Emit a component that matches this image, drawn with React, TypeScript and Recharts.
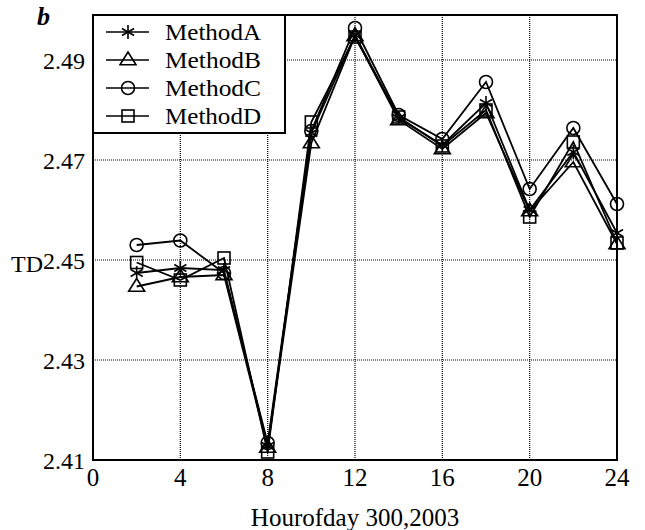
import React from 'react';
import { LineChart, Line, XAxis, YAxis, CartesianGrid, Legend, ReferenceArea } from 'recharts';

const hours = [2, 4, 6, 8, 10, 12, 14, 16, 18, 20, 22, 24];
const methodA = [2.4474, 2.4484, 2.448, 2.4128, 2.4754, 2.495, 2.4784, 2.473, 2.4814, 2.46, 2.4716, 2.4554];
const methodB = [2.4447, 2.4466, 2.447, 2.4125, 2.4734, 2.4948, 2.478, 2.4722, 2.4794, 2.4598, 2.4696, 2.4532];
const methodC = [2.453, 2.4539, 2.4474, 2.4134, 2.4758, 2.4964, 2.479, 2.4742, 2.4856, 2.4642, 2.4764, 2.4612];
const methodD = [2.4495, 2.446, 2.4504, 2.4116, 2.4776, 2.4946, 2.4786, 2.4728, 2.48, 2.4586, 2.4736, 2.4534];
const xTicks = [0, 4, 8, 12, 16, 20, 24];
const yTicks = [2.41, 2.43, 2.45, 2.47, 2.49];
const seriesNames = ['MethodA', 'MethodB', 'MethodC', 'MethodD'];
const seriesKeys = ['A', 'B', 'C', 'D'];

const data = hours.map((h, i) => ({ hour: h, A: methodA[i], B: methodB[i], C: methodC[i], D: methodD[i] }));

const FONT = '"Liberation Serif", "DejaVu Serif", serif';

function Marker({ kind, cx, cy }: { kind: string; cx: number; cy: number }) {
  const sw = 1.6;
  if (kind === 'A') {
    const r = 7;
    const dx = r * Math.cos(Math.PI / 6);
    const dy = r * Math.sin(Math.PI / 6);
    return (
      <g stroke="#000" strokeWidth={sw}>
        <line x1={cx} y1={cy - r} x2={cx} y2={cy + r} />
        <line x1={cx - dx} y1={cy - dy} x2={cx + dx} y2={cy + dy} />
        <line x1={cx - dx} y1={cy + dy} x2={cx + dx} y2={cy - dy} />
      </g>
    );
  }
  if (kind === 'B') {
    const s = 8;
    return (
      <polygon
        points={`${cx},${cy - s} ${cx - s},${cy + s * 0.6} ${cx + s},${cy + s * 0.6}`}
        fill="none"
        stroke="#000"
        strokeWidth={sw}
      />
    );
  }
  if (kind === 'C') {
    return <circle cx={cx} cy={cy} r={6.5} fill="none" stroke="#000" strokeWidth={sw} />;
  }
  return <rect x={cx - 6} y={cy - 6} width={12} height={12} fill="none" stroke="#000" strokeWidth={sw} />;
}

const makeDot = (kind: string) => (props: any) => {
  const { cx, cy, index } = props;
  if (cx == null || cy == null) return <g key={`${kind}-${index}`} />;
  return (
    <g key={`${kind}-${index}`}>
      <Marker kind={kind} cx={cx} cy={cy} />
    </g>
  );
};

function LegendBox() {
  return (
    <svg width={194} height={120} style={{ display: 'block' }}>
      <rect x={1} y={1} width={192} height={118} fill="#fff" stroke="#000" strokeWidth={2} />
      {seriesKeys.map((k, i) => {
        const y = 18 + i * 28;
        return (
          <g key={k}>
            <line x1={14} y1={y} x2={57} y2={y} stroke="#000" strokeWidth={1.6} />
            <Marker kind={k} cx={36} cy={y} />
            <text x={73} y={y + 8} fontFamily={FONT} fontSize={24} fill="#000" textLength={96} lengthAdjust="spacingAndGlyphs">
              {seriesNames[i]}
            </text>
          </g>
        );
      })}
    </svg>
  );
}

export default function App() {
  return (
    <div style={{ position: 'absolute', left: 0, top: 0, width: 645, height: 530, background: '#fff' }}>
      <LineChart width={645} height={530} data={data} margin={{ top: 15, right: 28, bottom: 0, left: 0 }}>
        <CartesianGrid stroke="#000" strokeDasharray="1 1" strokeWidth={1.2} />
        <XAxis
          dataKey="hour"
          type="number"
          domain={[0, 24]}
          ticks={xTicks}
          tickLine={false}
          axisLine={false}
          tickMargin={2}
          tick={{ fill: '#000', fontFamily: FONT, fontSize: 25 }}
          label={{
            value: 'Hourofday 300,2003',
            position: 'insideBottom',
            offset: 0,
            fill: '#000',
            fontFamily: FONT,
            fontSize: 25,
            dy: -4,
          }}
          height={70}
        />
        <YAxis
          type="number"
          domain={[2.41, 2.499]}
          ticks={yTicks}
          allowDataOverflow
          tickFormatter={(v: number) => v.toFixed(2)}
          tickLine={false}
          axisLine={false}
          width={93}
          tick={{ fill: '#000', fontFamily: FONT, fontSize: 24 }}
          label={{
            content: () => (
              <text x={11} y={272} fontFamily={FONT} fontSize={24} fill="#000">
                TD
              </text>
            ),
          }}
        />
        <ReferenceArea x1={0} x2={24} y1={2.41} y2={2.499} fill="none" stroke="#000" strokeWidth={2} ifOverflow="visible" />
        <Line dataKey="A" stroke="#000" strokeWidth={1.8} dot={makeDot('A')} isAnimationActive={false} />
        <Line dataKey="B" stroke="#000" strokeWidth={1.8} dot={makeDot('B')} isAnimationActive={false} />
        <Line dataKey="C" stroke="#000" strokeWidth={1.8} dot={makeDot('C')} isAnimationActive={false} />
        <Line dataKey="D" stroke="#000" strokeWidth={1.8} dot={makeDot('D')} isAnimationActive={false} />
        <Legend
          layout="vertical"
          align="center"
          verticalAlign="middle"
          wrapperStyle={{ left: 92, top: 14, width: 194, height: 120 }}
          content={() => <LegendBox />}
        />
      </LineChart>
      <div
        style={{
          position: 'absolute',
          left: 37,
          top: 2,
          fontFamily: FONT,
          fontWeight: 'bold',
          fontStyle: 'italic',
          fontSize: 26,
          color: '#000',
        }}
      >
        b
      </div>
    </div>
  );
}
